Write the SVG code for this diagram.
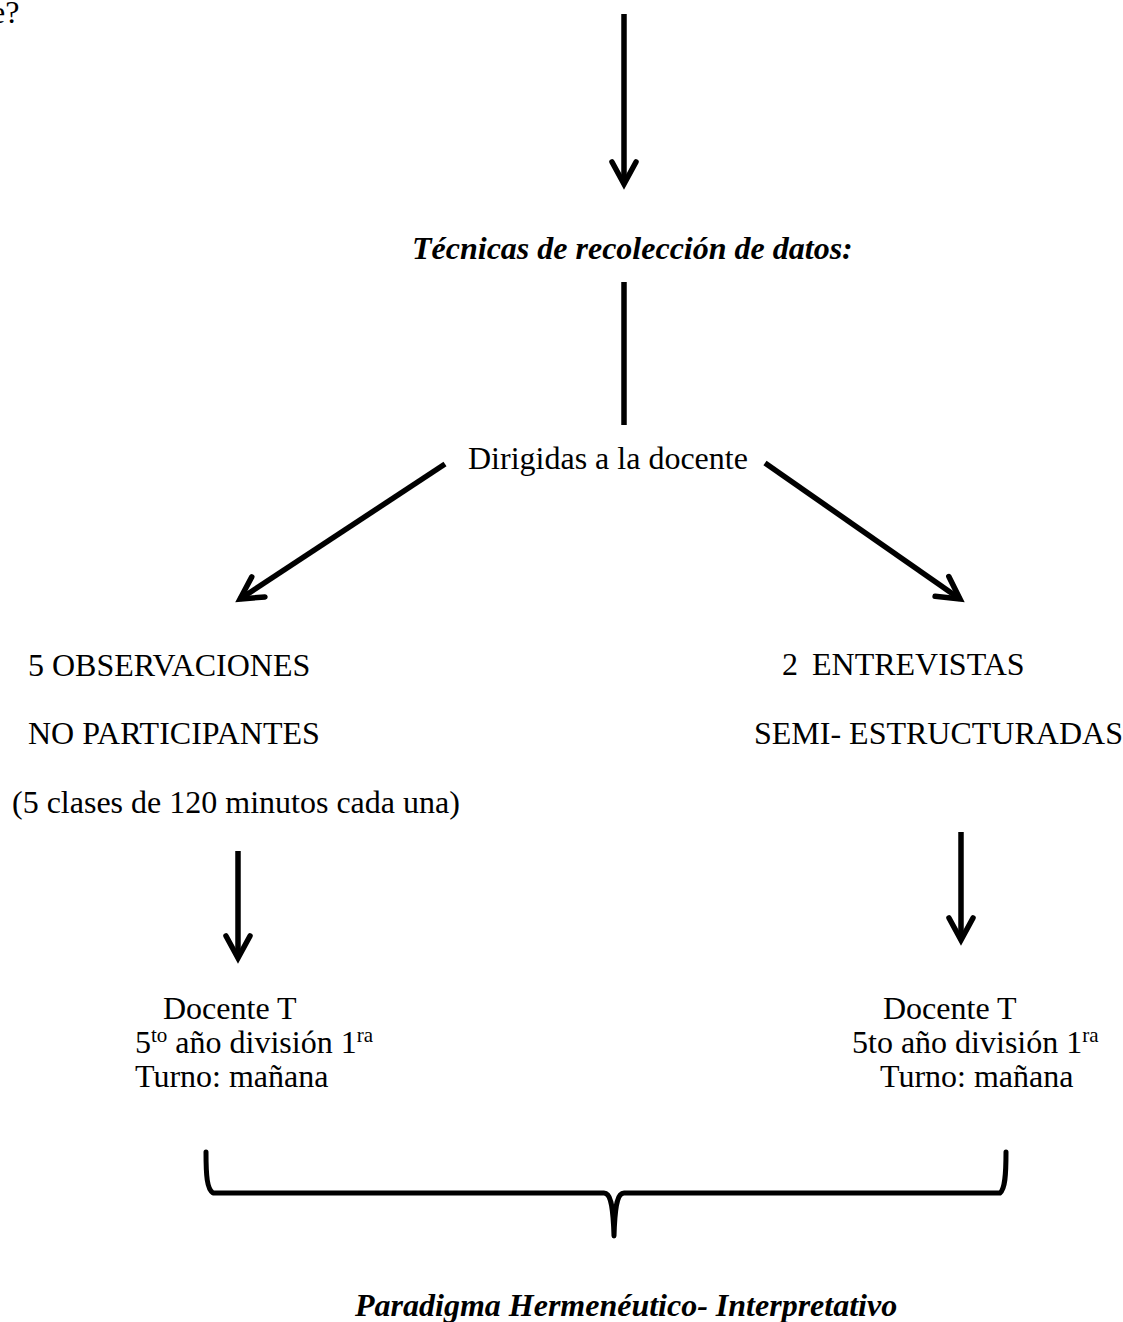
<svg xmlns="http://www.w3.org/2000/svg" width="1123" height="1322" viewBox="0 0 1123 1322">
<defs>
<style>
.t{font-family:"Liberation Serif","Times New Roman",serif;font-size:32px;fill:#000}
.bi{font-weight:bold;font-style:italic}
.sup{font-size:21px}
.ln{stroke:#000;stroke-width:5.5;fill:none;stroke-linecap:butt}
.br{stroke:#000;stroke-width:5;fill:none;stroke-linecap:round;stroke-linejoin:round}
</style>
<marker id="ah" markerUnits="userSpaceOnUse" markerWidth="40" markerHeight="40" viewBox="-30 -20 40 40" refX="0" refY="0" orient="auto" overflow="visible">
<path d="M-22,-12 L0,0 L-22,12" fill="none" stroke="#000" stroke-width="5.5" stroke-linecap="round" stroke-linejoin="miter"/>
</marker>
</defs>
<rect width="1123" height="1322" fill="#fff"/>

<g id="top-fragment"><text class="t" x="-9" y="23">e?</text></g>

<g id="tecnicas"><text class="t bi" x="412" y="259">Técnicas de recolección de datos:</text></g>

<g id="dirigidas"><text class="t" x="468" y="469">Dirigidas a la docente</text></g>

<g id="observaciones">
<text class="t" x="28" y="676">5 OBSERVACIONES</text>
<text class="t" x="28" y="744">NO PARTICIPANTES</text>
<text class="t" x="12" y="813">(5 clases de 120 minutos cada una)</text>
</g>

<g id="entrevistas">
<text class="t" y="675"><tspan x="782">2</tspan><tspan x="812">ENTREVISTAS</tspan></text>
<text class="t" x="754" y="744">SEMI- ESTRUCTURADAS</text>
</g>

<g id="docente-left">
<text class="t" x="163" y="1019">Docente T</text>
<text class="t" x="135" y="1053">5<tspan class="sup" dy="-11">to</tspan><tspan dy="11"> año división 1</tspan><tspan class="sup" dy="-11">ra</tspan></text>
<text class="t" x="135" y="1087">Turno: mañana</text>
</g>

<g id="docente-right">
<text class="t" x="883" y="1019">Docente T</text>
<text class="t" x="852" y="1053">5to año división 1<tspan class="sup" dy="-11">ra</tspan></text>
<text class="t" x="880" y="1087">Turno: mañana</text>
</g>

<g id="paradigma"><text class="t bi" x="355" y="1316">Paradigma Hermenéutico- Interpretativo</text></g>

<g id="connectors">
<line class="ln" x1="624" y1="14" x2="624" y2="184" marker-end="url(#ah)"/>
<line class="ln" x1="624" y1="282" x2="624" y2="425"/>
<line class="ln" x1="445" y1="464" x2="240" y2="599" marker-end="url(#ah)"/>
<line class="ln" x1="765" y1="463" x2="960" y2="599" marker-end="url(#ah)"/>
<line class="ln" x1="238" y1="851" x2="238" y2="958" marker-end="url(#ah)"/>
<line class="ln" x1="961" y1="832" x2="961" y2="940" marker-end="url(#ah)"/>
<path class="br" d="M206,1152 C206,1176 207,1189 213,1193 L604,1193 C610,1193 613,1202 614,1236 C615,1202 618,1193 624,1193 L1000,1193 C1005,1189 1006,1176 1006,1152"/>
</g>
</svg>
